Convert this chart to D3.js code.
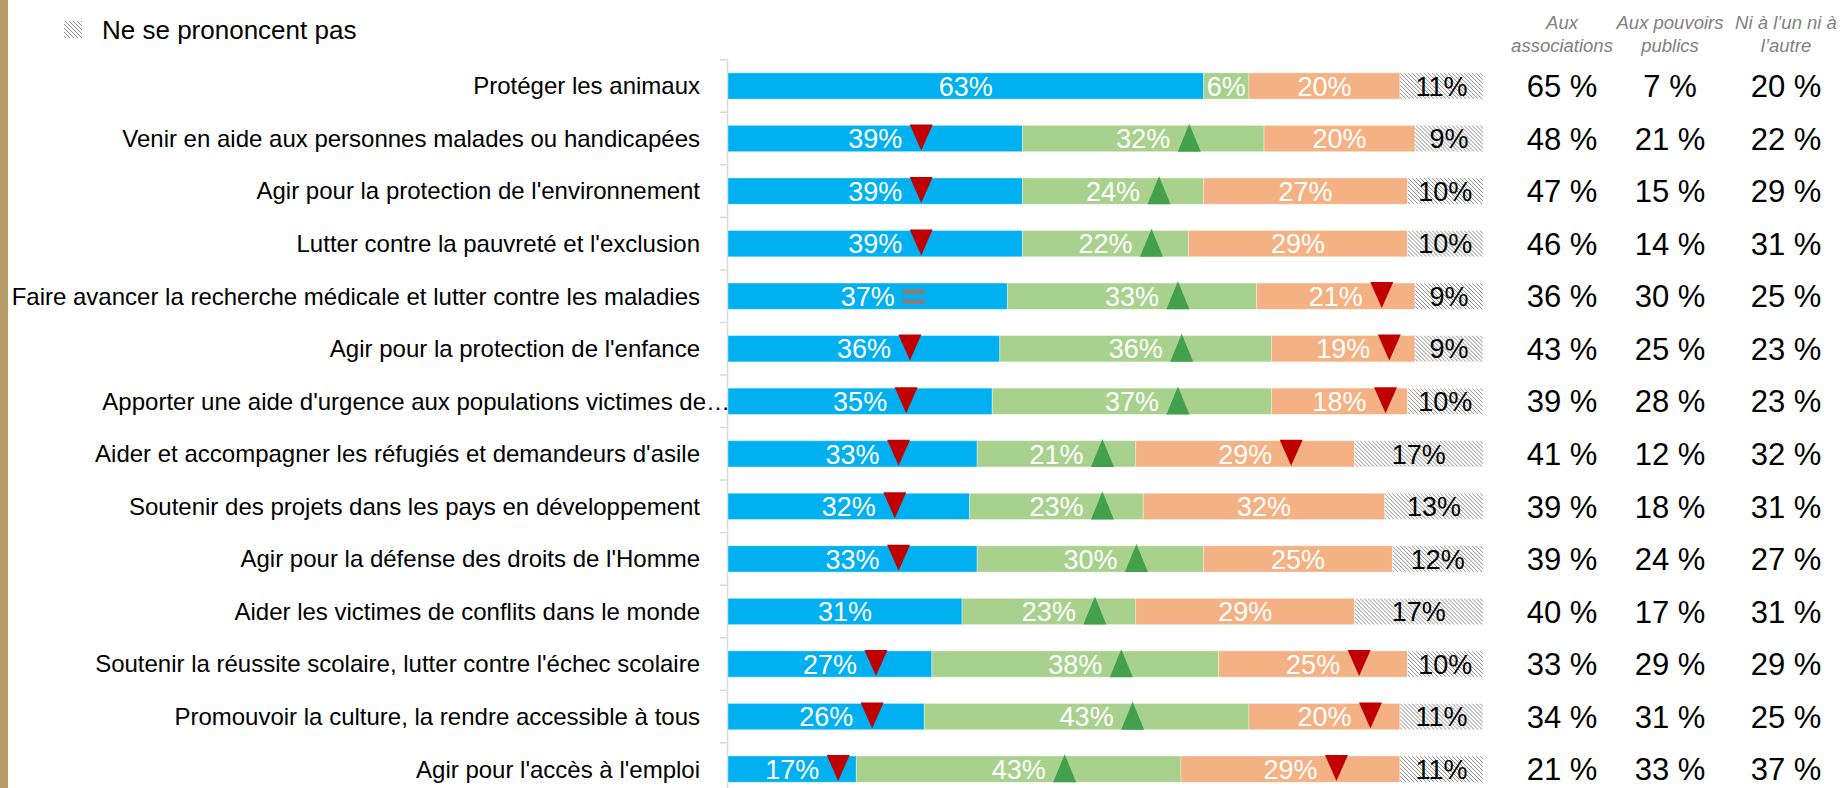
<!DOCTYPE html>
<html>
<head>
<meta charset="utf-8">
<script src="https://cdn.jsdelivr.net/npm/d3@7"></script>
<style>
  body { margin: 0; background: #fff; }
  svg { display: block; font-family: "Liberation Sans", Arial, sans-serif; }
</style>
</head>
<body>
<div id="chart"></div>
<script>
/*
 * Stacked bars: qui doit agir ? associations / pouvoirs publics
 */

var categories = [
  "Protéger les animaux",
  "Venir en aide aux personnes malades ou handicapées",
  "Agir pour la protection de l'environnement",
  "Lutter contre la pauvreté et l'exclusion",
  "Faire avancer la recherche médicale et lutter contre les maladies",
  "Agir pour la protection de l'enfance",
  "Apporter une aide d'urgence aux populations victimes de…",
  "Aider et accompagner les réfugiés et demandeurs d'asile",
  "Soutenir des projets dans les pays en développement",
  "Agir pour la défense des droits de l'Homme",
  "Aider les victimes de conflits dans le monde",
  "Soutenir la réussite scolaire, lutter contre l'échec scolaire",
  "Promouvoir la culture, la rendre accessible à tous",
  "Agir pour l'accès à l'emploi"
];

var seriesNames = ["Aux associations", "Aux pouvoirs publics", "Ni à l'un ni à l'autre", "Ne se prononcent pas"];

var associations = [63, 39, 39, 39, 37, 36, 35, 33, 32, 33, 31, 27, 26, 17];
var pouvoirs     = [6, 32, 24, 22, 33, 36, 37, 21, 23, 30, 23, 38, 43, 43];
var niLun        = [20, 20, 27, 29, 21, 19, 18, 29, 32, 25, 29, 25, 20, 29];
var nsp          = [11, 9, 10, 10, 9, 9, 10, 17, 13, 12, 17, 10, 11, 11];

// evolution markers: d = baisse, u = hausse, e = stable, "" = none
var markAssoc    = ["", "d", "d", "d", "e", "d", "d", "d", "d", "d", "", "d", "d", "d"];
var markPouvoirs = ["", "u", "u", "u", "u", "u", "u", "u", "u", "u", "u", "u", "u", "u"];
var markNi       = ["", "", "", "", "d", "d", "d", "d", "", "", "", "d", "d", "d"];

// right-hand table
var tableHeaders = [["Aux", "associations"], ["Aux pouvoirs", "publics"], ["Ni à l’un ni à", "l’autre"]];
var tableAssoc    = [65, 48, 47, 46, 36, 43, 39, 41, 39, 39, 40, 33, 34, 21];
var tablePouvoirs = [7, 21, 15, 14, 30, 25, 28, 12, 18, 24, 17, 29, 31, 33];
var tableNi       = [20, 22, 29, 31, 25, 23, 23, 32, 31, 27, 31, 29, 25, 37];

var COLORS = {
  assoc: "#00b0f0",
  pouvoirs: "#a9d18e",
  ni: "#f4b183",
  down: "#c00000",
  up: "#43a04d",
  equal: "#808080",
  gold: "#b89c68",
  axis: "#d9d9d9",
  header: "#808080"
};

var W = 1840, H = 788;

var svg = d3.select("#chart").append("svg").attr("width", W).attr("height", H);

// hatch pattern for "ne se prononcent pas"
var defs = svg.append("defs");
var pat = defs.append("pattern").attr("id", "hatch").attr("patternUnits", "userSpaceOnUse")
  .attr("width", 4).attr("height", 4);
pat.append("rect").attr("width", 4).attr("height", 4).attr("fill", "#fff");
pat.append("path").attr("d", "M-1,-1 L5,5 M-1,3 L1,5 M3,-1 L5,1")
  .attr("stroke", "#8c8c8c").attr("stroke-width", 1);

// gold strip on the left
svg.append("rect").attr("x", 0).attr("y", 0).attr("width", 8).attr("height", H).attr("fill", COLORS.gold);

var x = d3.scaleLinear().domain([0, 100]).range([728, 1483]);
var y = d3.scaleBand().domain(categories).range([59.7, 795.4]).paddingInner(0.5).paddingOuter(0.25);

// build rows
var rows = categories.map(function(c, i) {
  var vals = [associations[i], pouvoirs[i], niLun[i], nsp[i]];
  var marks = [markAssoc[i], markPouvoirs[i], markNi[i], ""];
  var fills = [COLORS.assoc, COLORS.pouvoirs, COLORS.ni, "url(#hatch)"];
  var x0 = 0;
  var segs = vals.map(function(v, k) {
    var s = { start: x0, end: x0 + v, value: v, mark: marks[k], fill: fills[k], k: k };
    x0 += v;
    return s;
  });
  return { cat: c, segs: segs };
});

// axis line + ticks between rows
var step = y.step();
var gap = (step - y.bandwidth()) / 2;
svg.append("line").attr("x1", 727.5).attr("x2", 727.5)
  .attr("y1", y(categories[0]) - gap).attr("y2", H)
  .attr("stroke", COLORS.axis).attr("stroke-width", 1.5);
categories.forEach(function(c) {
  svg.append("line").attr("x1", 720).attr("x2", 727.5)
    .attr("y1", y(c) - gap).attr("y2", y(c) - gap)
    .attr("stroke", COLORS.axis).attr("stroke-width", 1.5);
});

// category labels
svg.append("g").selectAll("text").data(categories).enter().append("text")
  .attr("x", function(d) { return d.slice(-1) === "…" ? 730 : 700; })
  .attr("y", function(d) { return y(d) + y.bandwidth() / 2; })
  .attr("dy", "0.35em")
  .attr("text-anchor", "end")
  .attr("font-size", 24)
  .attr("fill", "#000")
  .text(function(d) { return d; });

// bars
var rowG = svg.append("g").selectAll("g").data(rows).enter().append("g")
  .attr("transform", function(d) { return "translate(0," + y(d.cat) + ")"; });

var bh = y.bandwidth();

rowG.selectAll("rect").data(function(d) { return d.segs; }).enter().append("rect")
  .attr("x", function(s) { return x(s.start); })
  .attr("width", function(s) { return x(s.end) - x(s.start); })
  .attr("y", 0).attr("height", bh)
  .attr("fill", function(s) { return s.fill; })
  .attr("stroke", "#fff").attr("stroke-opacity", 0.35).attr("stroke-width", 1);

rowG.selectAll("text").data(function(d) { return d.segs; }).enter().append("text")
  .attr("x", function(s) { return x((s.start + s.end) / 2); })
  .attr("y", bh / 2)
  .attr("dy", "0.36em")
  .attr("text-anchor", "middle")
  .attr("font-size", 27)
  .attr("fill", function(s) { return s.k === 3 ? "#000" : "#fff"; })
  .text(function(s) { return s.value + "%"; });

// evolution markers
rowG.each(function(d) {
  var g = d3.select(this);
  d.segs.forEach(function(s) {
    if (!s.mark) return;
    var cx = x((s.start + s.end) / 2) + 46;
    if (s.mark === "d") {
      g.append("path")
        .attr("d", "M" + (cx - 11.5) + ",-1 L" + (cx + 11.5) + ",-1 L" + cx + ",25 Z")
        .attr("fill", COLORS.down);
    } else if (s.mark === "u") {
      g.append("path")
        .attr("d", "M" + (cx - 11.5) + "," + bh + " L" + (cx + 11.5) + "," + bh + " L" + cx + "," + (bh - 28) + " Z")
        .attr("fill", COLORS.up);
    } else {
      g.append("rect").attr("x", cx - 11).attr("y", bh / 2 - 7).attr("width", 22).attr("height", 5).attr("fill", COLORS.equal);
      g.append("rect").attr("x", cx - 11).attr("y", bh / 2 + 3).attr("width", 22).attr("height", 5).attr("fill", COLORS.equal);
    }
  });
});

// legend (only the last item is visible in the frame)
var leg = svg.append("g");
leg.append("rect").attr("x", 64).attr("y", 21).attr("width", 18).attr("height", 17).attr("fill", "url(#hatch)");
leg.append("text").attr("x", 102).attr("y", 30).attr("dy", "0.35em")
  .attr("font-size", 26).attr("fill", "#000").text(seriesNames[3]);

// right table
var colX = [1562, 1670, 1786];
var tableCols = [tableAssoc, tablePouvoirs, tableNi];

tableHeaders.forEach(function(lines, j) {
  lines.forEach(function(t, l) {
    svg.append("text").attr("x", colX[j]).attr("y", 29 + l * 23)
      .attr("text-anchor", "middle").attr("font-size", 18.5)
      .attr("font-style", "italic").attr("fill", COLORS.header).text(t);
  });
});

tableCols.forEach(function(col, j) {
  svg.append("g").selectAll("text").data(col).enter().append("text")
    .attr("x", colX[j])
    .attr("y", function(v, i) { return y(categories[i]) + bh / 2; })
    .attr("dy", "0.36em")
    .attr("text-anchor", "middle")
    .attr("font-size", 31)
    .attr("fill", "#000")
    .text(function(v) { return v + " %"; });
});
</script>
</body>
</html>
